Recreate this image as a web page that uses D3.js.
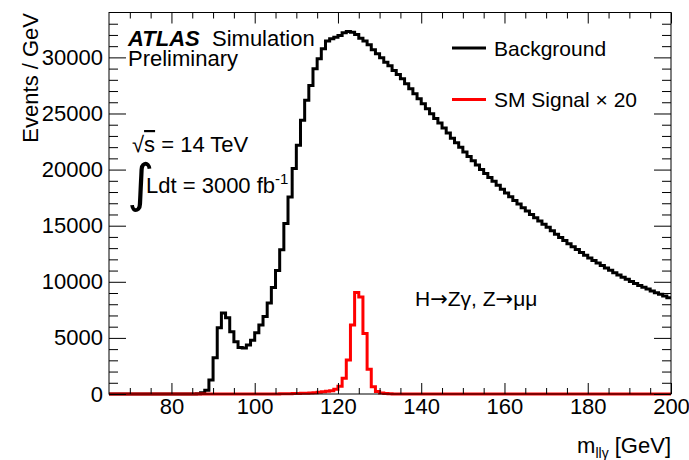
<!DOCTYPE html>
<html>
<head>
<meta charset="utf-8">
<script src="https://cdn.jsdelivr.net/npm/d3@7/dist/d3.min.js"></script>
<style>
    body { margin: 0; background: #fff; }
    svg text { font-family: "Liberation Sans", Arial, Helvetica, sans-serif; fill: #000; }
</style>
</head>
<body>
<div id="HPlot"></div>
<script>

//Histogram binning (1 GeV bins from 65 to 200 GeV)
const binLow = 65;
const binHigh = 200;
const binWidth = 1;

//Background, events per bin (65..199)
const background = [
    0, 0, 0, 0, 0, 0, 0, 0, 0, 0,
    0, 0, 0, 0, 0, 0, 0, 0, 0, 0,
    0, 30, 120, 330, 1250, 3230, 5900, 7230, 6790, 5550,
    4650, 4150, 4090, 4360, 4800, 5450, 6140, 6900, 8100, 9500,
    11000, 12850, 15190, 17560, 20090, 22160, 24390, 26170, 27500, 28990,
    29880, 30770, 31450, 31660, 31800, 31950, 32200, 32300, 32250, 32040,
    31700, 31450, 31120, 30680, 30320, 29960, 29570, 29250, 28830, 28480,
    28100, 27650, 27210, 26760, 26310, 25870, 25430, 24980, 24560, 24150,
    23700, 23250, 22800, 22400, 21980, 21560, 21170, 20790, 20400, 20000,
    19650, 19300, 18950, 18600, 18250, 17920, 17580, 17250, 16930, 16600,
    16300, 16000, 15700, 15420, 15130, 14850, 14560, 14240, 13950, 13670,
    13400, 13130, 12870, 12620, 12370, 12130, 11900, 11670, 11450, 11230,
    11020, 10810, 10610, 10410, 10220, 10030, 9850, 9680, 9510, 9350,
    9190, 9030, 8880, 8730, 8580
];

//SM signal x 20, events per bin (65..199)
const signal = [
    0, 0, 0, 0, 0, 0, 0, 0, 0, 0,
    0, 0, 0, 0, 0, 0, 0, 0, 0, 0,
    0, 0, 0, 0, 0, 0, 0, 0, 0, 0,
    0, 0, 0, 0, 0, 0, 0, 0, 0, 0,
    10, 15, 20, 25, 35, 45, 60, 75, 95, 120,
    150, 190, 240, 300, 420, 700, 1400, 3030, 6140, 9050,
    8640, 5400, 2210, 650, 220, 100, 50, 25, 10, 0,
    0, 0, 0, 0, 0, 0, 0, 0, 0, 0,
    0, 0, 0, 0, 0, 0, 0, 0, 0, 0,
    0, 0, 0, 0, 0, 0, 0, 0, 0, 0,
    0, 0, 0, 0, 0, 0, 0, 0, 0, 0,
    0, 0, 0, 0, 0, 0, 0, 0, 0, 0,
    0, 0, 0, 0, 0, 0, 0, 0, 0, 0,
    0, 0, 0, 0, 0
];

//Axis ticks
const xMajor = [80, 100, 120, 140, 160, 180, 200];
const xMinor = [70, 75, 85, 90, 95, 105, 110, 115, 125, 130, 135, 145, 150, 155, 165, 170, 175, 185, 190, 195];
const yMajor = [0, 5000, 10000, 15000, 20000, 25000, 30000];
const yMinor = [1000, 2000, 3000, 4000, 6000, 7000, 8000, 9000, 11000, 12000, 13000, 14000,
    16000, 17000, 18000, 19000, 21000, 22000, 23000, 24000, 26000, 27000, 28000, 29000,
    31000, 32000, 33000];
const yMax = 34000;

//Legend entries
const legendNames = ["Background", "SM Signal \u00d7 20"];
const legendColors = ["#000", "#ff0000"];

class HistPlot
{
    constructor ()
    {
        this.width = 689;
        this.height = 460;
        this.margin = {top: 12.5, right: 18, bottom: 66, left: 109};

        this.svg = d3.select("#HPlot").append("svg")
            .attr("width", this.width)
            .attr("height", this.height);

        this.plotW = this.width - this.margin.left - this.margin.right;
        this.plotH = this.height - this.margin.top - this.margin.bottom;
    }

    draw ()
    {
        let m = this.margin;
        let fs = 22;

        let xScale = d3.scaleLinear().domain([binLow, binHigh]).range([m.left, m.left + this.plotW]);
        let yScale = d3.scaleLinear().domain([0, yMax]).range([m.top + this.plotH, m.top]);

        //Histogram step lines
        let histPoints = vals => {
            let pts = vals.map((v, i) => [binLow + i * binWidth, v]);
            pts.push([binHigh, vals[vals.length - 1]]);
            return pts;
        };
        let line = d3.line()
            .x(d => xScale(d[0]))
            .y(d => yScale(d[1]))
            .curve(d3.curveStepAfter);

        this.svg.append("path")
            .attr("d", line(histPoints(background)))
            .attr("fill", "none")
            .attr("stroke", legendColors[0])
            .attr("stroke-width", 3);

        this.svg.append("path")
            .attr("d", line(histPoints(signal)))
            .attr("fill", "none")
            .attr("stroke", legendColors[1])
            .attr("stroke-width", 3);

        //Axes (ROOT style, ticks inside)
        let y0 = m.top + this.plotH;
        let x1 = m.left + this.plotW;

        let axisStyle = g => {
            g.select(".domain").remove();
            g.selectAll("line").attr("stroke", "#000").attr("stroke-width", 1);
            g.selectAll("text").style("font-size", fs + "px").style("font-family", "Liberation Sans, Arial, sans-serif");
        };

        this.svg.append("g").attr("transform", "translate(0," + y0 + ")")
            .call(d3.axisBottom(xScale).tickValues(xMajor).tickSize(-11).tickPadding(4).tickFormat(d3.format("d")))
            .call(axisStyle);
        this.svg.append("g").attr("transform", "translate(0," + y0 + ")")
            .call(d3.axisBottom(xScale).tickValues(xMinor).tickSize(-6).tickFormat(""))
            .call(axisStyle);
        this.svg.append("g").attr("transform", "translate(0," + m.top + ")")
            .call(d3.axisTop(xScale).tickValues(xMajor).tickSize(-11).tickFormat(""))
            .call(axisStyle);
        this.svg.append("g").attr("transform", "translate(0," + m.top + ")")
            .call(d3.axisTop(xScale).tickValues(xMinor).tickSize(-6).tickFormat(""))
            .call(axisStyle);

        this.svg.append("g").attr("transform", "translate(" + m.left + ",0)")
            .call(d3.axisLeft(yScale).tickValues(yMajor).tickSize(-17).tickPadding(6).tickFormat(d3.format("d")))
            .call(axisStyle);
        this.svg.append("g").attr("transform", "translate(" + m.left + ",0)")
            .call(d3.axisLeft(yScale).tickValues(yMinor).tickSize(-9).tickFormat(""))
            .call(axisStyle);
        this.svg.append("g").attr("transform", "translate(" + x1 + ",0)")
            .call(d3.axisRight(yScale).tickValues(yMajor).tickSize(-17).tickFormat(""))
            .call(axisStyle);
        this.svg.append("g").attr("transform", "translate(" + x1 + ",0)")
            .call(d3.axisRight(yScale).tickValues(yMinor).tickSize(-9).tickFormat(""))
            .call(axisStyle);

        //Frame
        this.svg.append("rect")
            .attr("x", m.left).attr("y", m.top)
            .attr("width", this.plotW).attr("height", this.plotH)
            .attr("fill", "none").attr("stroke", "#000").attr("stroke-width", 1);

        //Axis titles
        let xt = this.svg.append("text")
            .attr("x", x1).attr("y", 453)
            .attr("text-anchor", "end")
            .style("font-size", fs + "px");
        xt.append("tspan").text("m");
        xt.append("tspan").attr("dy", 5).style("font-size", "14px").text("ll\u03b3");
        xt.append("tspan").attr("dy", -5).text(" [GeV]");

        this.svg.append("text")
            .attr("transform", "translate(38,13) rotate(-90)")
            .attr("text-anchor", "end")
            .style("font-size", fs + "px")
            .text("Events / GeV");

        //ATLAS label (one block, ROOT packs these lines tightly)
        let at = this.svg.append("text").attr("x", 128).attr("y", 46).style("font-size", fs + "px");
        at.append("tspan").style("font-weight", "bold").style("font-style", "italic").text("ATLAS");
        at.append("tspan").attr("x", 212).text("Simulation");
        at.append("tspan").attr("x", 128).attr("y", 66).text("Preliminary");

        //Energy and luminosity
        let en = this.svg.append("text").attr("x", 132).attr("y", 152).style("font-size", fs + "px");
        en.append("tspan").text("\u221a");
        en.append("tspan").style("text-decoration", "overline").text("s");
        en.append("tspan").text(" = 14 TeV");
        en.append("tspan").attr("x", 127).attr("y", 201)
            .style("font-size", "52px").style("font-family", "DejaVu Sans").text("\u222b");
        en.append("tspan").attr("x", 146).attr("y", 193).text("Ldt = 3000 fb");
        en.append("tspan").attr("dy", -9).style("font-size", "15px").text("-1");

        //Process label
        let pr = this.svg.append("text").attr("x", 415).attr("y", 306).style("font-size", "21px");
        pr.append("tspan").text("H");
        pr.append("tspan").style("font-family", "DejaVu Sans").text("\u2192");
        pr.append("tspan").text("Z\u03b3, Z");
        pr.append("tspan").style("font-family", "DejaVu Sans").text("\u2192");
        pr.append("tspan").text("\u03bc\u03bc");

        //Legend
        let legY = [48, 99.5];
        legendNames.forEach((name, i) => {
            this.svg.append("line")
                .attr("x1", 452).attr("x2", 486)
                .attr("y1", legY[i]).attr("y2", legY[i])
                .attr("stroke", legendColors[i]).attr("stroke-width", 3);
            this.svg.append("text")
                .attr("x", 494).attr("y", legY[i] + 7.5)
                .style("font-size", "21px")
                .text(name);
        });
    }
}

let plot = new HistPlot();
plot.draw();

</script>
</body>
</html>
